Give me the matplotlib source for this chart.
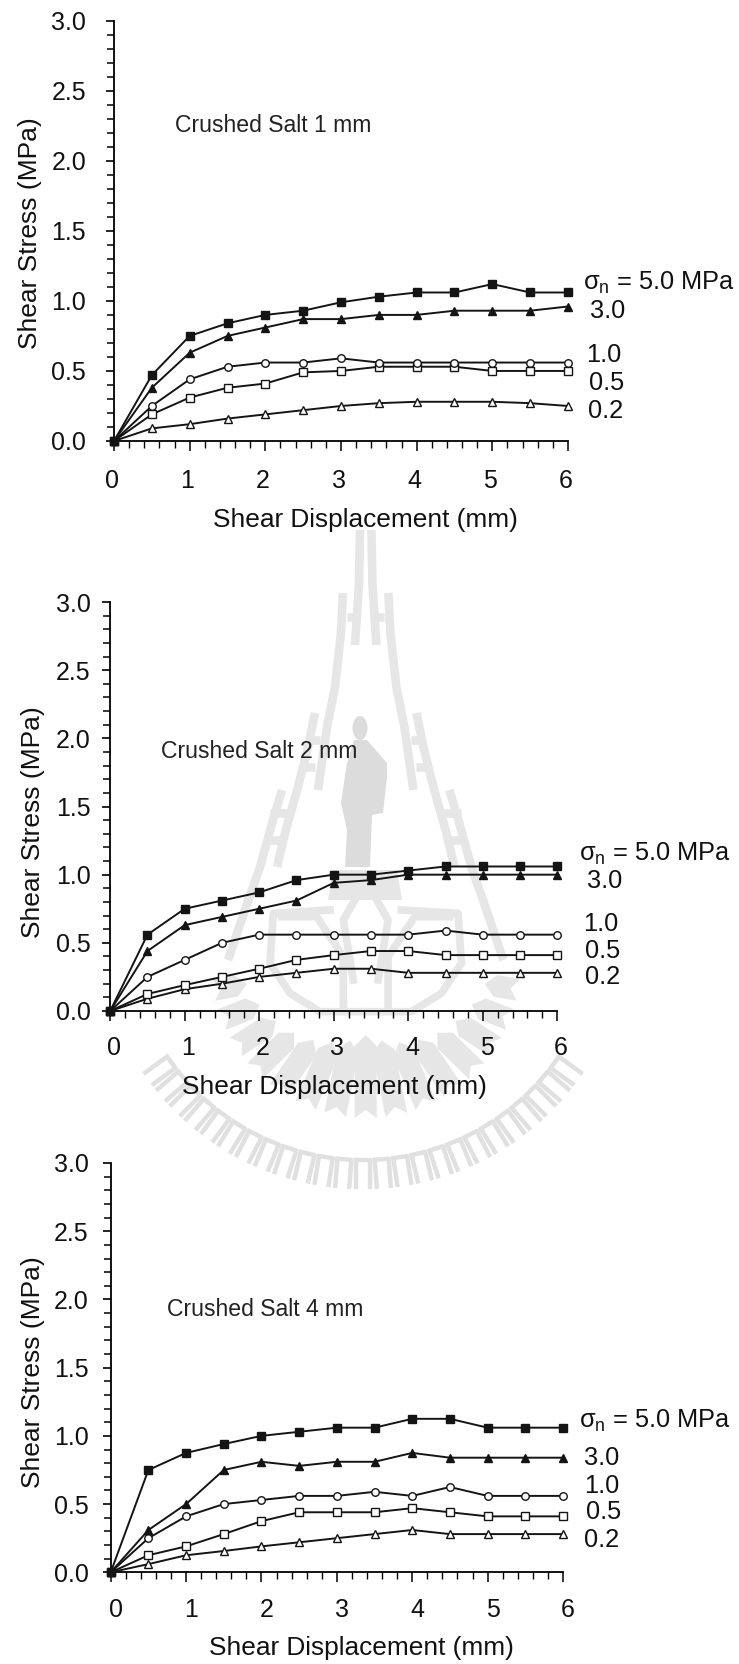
import numpy as np
import matplotlib
matplotlib.use('Agg')
import matplotlib.pyplot as plt
from matplotlib.patches import Ellipse, Polygon, Rectangle
from matplotlib.ticker import MultipleLocator

plt.rcParams['font.family'] = ['Liberation Sans', 'DejaVu Sans']
plt.rcParams['mathtext.default'] = 'regular'

W, H = 739, 1664

# Panel data
x_disp = [0, 0.5, 1, 1.5, 2, 2.5, 3, 3.5, 4, 4.5, 5, 5.5, 6]

salt1_50 = [0, 0.47, 0.75, 0.84, 0.90, 0.93, 0.99, 1.03, 1.06, 1.06, 1.12, 1.06, 1.06]
salt1_30 = [0, 0.38, 0.63, 0.75, 0.81, 0.87, 0.87, 0.90, 0.90, 0.93, 0.93, 0.93, 0.96]
salt1_10 = [0, 0.25, 0.44, 0.53, 0.56, 0.56, 0.59, 0.56, 0.56, 0.56, 0.56, 0.56, 0.56]
salt1_05 = [0, 0.19, 0.31, 0.38, 0.41, 0.49, 0.50, 0.53, 0.53, 0.53, 0.50, 0.50, 0.50]
salt1_02 = [0, 0.09, 0.12, 0.16, 0.19, 0.22, 0.25, 0.27, 0.28, 0.28, 0.28, 0.27, 0.25]

salt2_50 = [0, 0.56, 0.75, 0.81, 0.87, 0.96, 1.00, 1.00, 1.03, 1.06, 1.06, 1.06, 1.06]
salt2_30 = [0, 0.44, 0.63, 0.69, 0.75, 0.81, 0.94, 0.96, 1.00, 1.00, 1.00, 1.00, 1.00]
salt2_10 = [0, 0.25, 0.375, 0.50, 0.56, 0.56, 0.56, 0.56, 0.56, 0.59, 0.56, 0.56, 0.56]
salt2_05 = [0, 0.125, 0.19, 0.25, 0.31, 0.375, 0.41, 0.44, 0.44, 0.41, 0.41, 0.41, 0.41]
salt2_02 = [0, 0.09, 0.16, 0.20, 0.25, 0.28, 0.31, 0.31, 0.28, 0.28, 0.28, 0.28, 0.28]

salt4_50 = [0, 0.75, 0.875, 0.94, 1.00, 1.03, 1.06, 1.06, 1.125, 1.125, 1.06, 1.06, 1.06]
salt4_30 = [0, 0.31, 0.50, 0.75, 0.81, 0.78, 0.81, 0.81, 0.875, 0.84, 0.84, 0.84, 0.84]
salt4_10 = [0, 0.25, 0.41, 0.50, 0.53, 0.56, 0.56, 0.59, 0.56, 0.625, 0.56, 0.56, 0.56]
salt4_05 = [0, 0.125, 0.19, 0.28, 0.375, 0.44, 0.44, 0.44, 0.47, 0.44, 0.41, 0.41, 0.41]
salt4_02 = [0, 0.06, 0.125, 0.156, 0.19, 0.22, 0.25, 0.28, 0.31, 0.28, 0.28, 0.28, 0.28]

stress_labels = ['5.0', '3.0', '1.0', '0.5', '0.2']


def px_text(fig, x, y, s, **kw):
    """Text placed by pixel position, y measured from the top"""
    fig.text(x / W, 1 - y / H, s, **kw)


def draw_watermark(fig):
    """Rough grey university seal behind panel 2"""
    bg = fig.add_axes([0, 0, 1, 1], zorder=0)
    bg.set_xlim(0, W)
    bg.set_ylim(H, 0)
    bg.axis('off')
    grey = '#e6e6e6'
    cx = 365.7

    # tower rails on the left side, mirrored to the right
    rails = [
        ([360, 359, 355], [530, 583, 645]),
        ([343, 341, 335, 327, 318], [593, 633, 687, 727, 790]),
        ([315, 308, 298, 285, 277], [713, 747, 787, 833, 867]),
        ([282, 273, 260, 247, 228], [790, 820, 867, 904, 960]),
    ]
    rungs = [
        ([347, 355], [617, 617]),
        ([308, 320], [740, 740]),
        ([305, 315], [767, 767]),
        ([270, 287], [813, 813]),
        ([268, 283], [840, 840]),
    ]
    for xs, ys in rails + rungs:
        xs = np.array(xs)
        bg.plot(xs, ys, color=grey, lw=6.2, solid_capstyle='butt')
        bg.plot(2 * cx - xs, ys, color=grey, lw=6.2, solid_capstyle='butt')

    # statue on its plinth
    bg.add_patch(Ellipse((360, 728), 15, 24, color='#dcdcdc', lw=0))
    body = [(354, 740), (367, 740), (387, 763), (387, 777), (383, 813), (372, 815),
            (370, 867), (345, 867), (347, 830), (341, 803), (347, 763)]
    bg.add_patch(Polygon(body, color='#dcdcdc', lw=0))
    bg.add_patch(Polygon([(333, 870), (397, 870), (402, 900), (328, 900)], color=grey, lw=0))

    # seal outline and inner leaves
    seal_outer = [(700, 395), (570, 395), (480, 340), (420, 250), (430, 100), (600, 90)]
    seal_inner = [(640, 380), (640, 230), (560, 110), (455, 110)]
    seal_leaf = [(670, 300), (640, 120), (680, 50)]
    for pts in [seal_outer, seal_inner, seal_leaf]:
        xs = 130 + np.array([p[0] for p in pts]) / 3
        ys = 880 + np.array([p[1] for p in pts]) / 3
        bg.plot(xs, ys, color=grey, lw=5.5)
        bg.plot(2 * cx - xs, ys, color=grey, lw=5.5)

    # feather fan round the seal
    c0, c1 = cx, 963
    for a in np.radians(np.linspace(-80, 80, 15)):
        r0 = 72 + 35 * abs(a)
        r1 = 155
        sa, ca = np.sin(a), np.cos(a)
        w = 11
        pts = [(r0, 0), (r0 + 11, -w), (r1, -w), (r1 - 8, 0), (r1, w), (r0 + 11, w)]
        poly = [(c0 + r * sa + t * ca, c1 + r * ca - t * sa) for r, t in pts]
        bg.add_patch(Polygon(poly, color=grey, lw=0))

    # lettering arc, no Thai font here so only stroke shapes along the curve
    for a in np.radians(np.linspace(-54, 54, 25)):
        sa, ca = np.sin(a), np.cos(a)
        gx, gy = 363 + 250 * sa, 923 + 250 * ca

        def place(t, r):
            return gx + t * ca + r * sa, gy - t * sa + r * ca

        for stroke in [[(-7, 14), (-7, -10)], [(-7, -13), (7, -13), (7, 14)]]:
            pts = [place(t, r) for t, r in stroke]
            bg.plot([p[0] for p in pts], [p[1] for p in pts], color='#e0e0e0', lw=3.2)

    # the panel below covers the lower part of the seal lettering
    bg.add_patch(Rectangle((0, 1195), W, H - 1195, color='white', lw=0, zorder=5))


def draw_panel(fig, box, series, title, title_xy, label_xy, xlabel_xy, ylabel_xy, x_tick_y, x_tick_dx, ypad):
    left, right, top, bottom = box
    ax = fig.add_axes([left / W, 1 - bottom / H, (right - left) / W, (bottom - top) / H], zorder=2)
    ax.patch.set_alpha(0)

    styles = [('s', '#141414', 6.2), ('^', '#141414', 6.2), ('o', 'white', 5.4), ('s', 'white', 6.0), ('^', 'white', 5.8)]
    for i in [4, 3, 2, 1, 0]:
        m, fc, ms = styles[i]
        ax.plot(x_disp, series[i], color='#141414', lw=1.4, marker=m, mfc=fc, mec='#141414',
                mew=1.0, ms=ms, clip_on=False, zorder=3 + (4 - i))

    ax.set_xlim(0, 6)
    ax.set_ylim(0, 3)
    ax.spines['top'].set_visible(False)
    ax.spines['right'].set_visible(False)
    for s in ['left', 'bottom']:
        ax.spines[s].set_linewidth(1.3)
    ax.xaxis.set_major_locator(MultipleLocator(1))
    ax.xaxis.set_minor_locator(MultipleLocator(0.2))
    ax.yaxis.set_major_locator(MultipleLocator(0.5))
    ax.yaxis.set_minor_locator(MultipleLocator(0.1))
    ax.tick_params(axis='x', which='major', length=7.2, width=1.1)
    ax.tick_params(axis='x', which='minor', length=4.7, width=1.0)
    ax.tick_params(axis='y', which='major', length=6, width=1.2, labelsize=18, pad=ypad, labelcolor='#111111')
    ax.tick_params(axis='y', which='minor', length=4.7, width=1.1)
    ax.set_yticks(np.arange(0, 3.01, 0.5))
    ax.set_yticklabels([f'{v:.1f}' for v in np.arange(0, 3.01, 0.5)])
    ax.set_xticklabels([])

    # x tick numbers sit a little off the ticks in the original
    for v in range(7):
        px = left + (right - left) * v / 6 + x_tick_dx
        px_text(fig, px, x_tick_y, str(v), ha='center', va='center', fontsize=18, color='#111111')

    px_text(fig, xlabel_xy[0], xlabel_xy[1], 'Shear Displacement (mm)', ha='center', va='center',
            fontsize=18.9, color='#111111')
    px_text(fig, ylabel_xy[0], ylabel_xy[1], 'Shear Stress (MPa)', ha='center', va='center',
            rotation=90, fontsize=19, color='#111111')
    px_text(fig, title_xy[0], title_xy[1], title, ha='left', va='center', fontsize=16.6, color='#222222')

    for i, ((lx, ly), lab) in enumerate(zip(label_xy, stress_labels)):
        s = f'$σ_n$ = {lab} MPa' if i == 0 else lab
        px_text(fig, lx, ly, s, ha='left', va='center', fontsize=18.3, color='#111111')


fig = plt.figure(figsize=(W / 100, H / 100), dpi=100)
draw_watermark(fig)

draw_panel(fig, (114, 568, 20.7, 441),
           [salt1_50, salt1_30, salt1_10, salt1_05, salt1_02],
           'Crushed Salt 1 mm', (175, 125),
           [(583, 283), (590, 311.5), (586.5, 355), (589, 383), (588, 411)],
           (365, 520), (30, 233), 480.5, -2.3, 14)
draw_panel(fig, (110.2, 557.3, 602, 1011),
           [salt2_50, salt2_30, salt2_10, salt2_05, salt2_02],
           'Crushed Salt 2 mm', (161, 752),
           [(579, 854), (587, 881), (583, 924), (585, 951), (585, 977)],
           (334, 1087), (33, 822), 1048, 3.7, 8)
draw_panel(fig, (110.7, 563, 1163, 1572.3),
           [salt4_50, salt4_30, salt4_10, salt4_05, salt4_02],
           'Crushed Salt 4 mm', (167, 1309),
           [(579, 1420.5), (584, 1458), (584, 1486), (586, 1512), (584, 1540)],
           (361, 1648), (33, 1372), 1610, 5, 10)

fig.savefig('out.png', dpi=100)
